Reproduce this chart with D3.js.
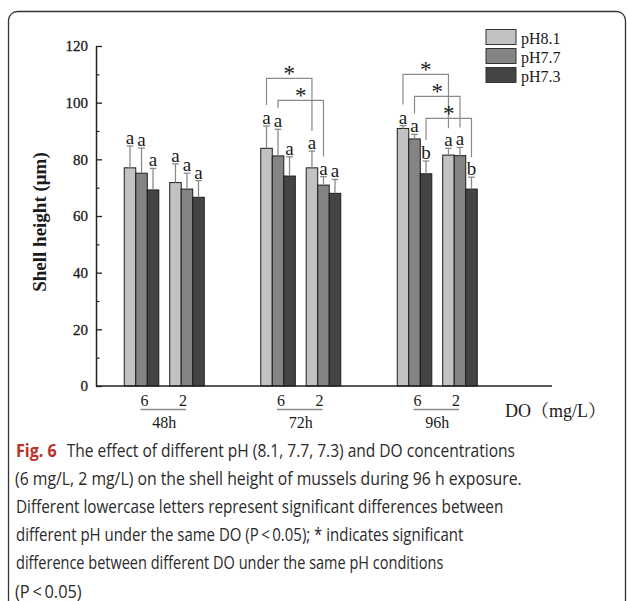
<!DOCTYPE html>
<html>
<head>
<meta charset="utf-8">
<script src="https://cdn.jsdelivr.net/npm/d3@7"></script>
<style>
  body { margin: 0; background: #fff; }
  svg { display: block; }
</style>
</head>
<body>
<svg id="chart"></svg>
<script>
// categories
const times = ["48h", "72h", "96h"];
const doLevels = ["6", "2"];
const phLevels = ["pH8.1", "pH7.7", "pH7.3"];

// means, order: 48h-6, 48h-2, 72h-6, 72h-2, 96h-6, 96h-2
const ph81Mean = [77.0, 71.8, 83.9, 77.0, 90.9, 81.5];
const ph77Mean = [75.1, 69.5, 81.2, 70.9, 87.2, 81.3];
const ph73Mean = [69.2, 66.6, 74.1, 68.0, 74.9, 69.5];

// error (upper bar)
const ph81Err = [7.7, 6.6, 7.9, 5.9, 1.0, 2.4];
const ph77Err = [8.9, 5.6, 9.4, 3.0, 1.6, 2.9];
const ph73Err = [7.6, 5.9, 6.8, 4.9, 4.5, 4.2];

// significance letters
const ph81Letters = ["a", "a", "a", "a", "a", "a"];
const ph77Letters = ["a", "a", "a", "a", "a", "a"];
const ph73Letters = ["a", "a", "a", "a", "b", "b"];

// DO comparisons marked with *
const sigPairs = [["72h", "pH8.1"], ["72h", "pH7.7"], ["96h", "pH8.1"], ["96h", "pH7.7"], ["96h", "pH7.3"]];

const yTicks = [0, 20, 40, 60, 80, 100, 120];

const figLabel = "Fig. 6";
const captionLines = [
  "The effect of different pH (8.1, 7.7, 7.3) and DO concentrations",
  "(6 mg/L, 2 mg/L) on the shell height of mussels during 96 h exposure.",
  "Different lowercase letters represent significant differences between",
  "different pH under the same DO (P\u2009<\u20090.05); * indicates significant",
  "difference between different DO under the same pH conditions",
  "(P\u2009<\u20090.05)"
];

const width = 627, height = 601;
const colors = { "pH8.1": "#c2c2c2", "pH7.7": "#848484", "pH7.3": "#444444" };
const serif = "'Liberation Serif', 'Times New Roman', serif";

const means = { "pH8.1": ph81Mean, "pH7.7": ph77Mean, "pH7.3": ph73Mean };
const errs = { "pH8.1": ph81Err, "pH7.7": ph77Err, "pH7.3": ph73Err };
const letters = { "pH8.1": ph81Letters, "pH7.7": ph77Letters, "pH7.3": ph73Letters };

const rows = [];
times.forEach((t, ti) => {
  doLevels.forEach((d, di) => {
    phLevels.forEach(p => {
      const i = ti * 2 + di;
      rows.push({ time: t, do: d, ph: p, mean: means[p][i], err: errs[p][i], letter: letters[p][i] });
    });
  });
});

const svg = d3.select("#chart").attr("width", width).attr("height", height);

// frame
svg.append("rect")
   .attr("x", 8.5).attr("y", 11.5)
   .attr("width", 617).attr("height", 600)
   .attr("rx", 9)
   .attr("fill", "none")
   .attr("stroke", "#333")
   .attr("stroke-width", 1.3);

const x0 = d3.scaleBand().domain(times).range([96, 505.5]).paddingInner(0.414).paddingOuter(0.207);
const x1 = d3.scaleBand().domain(doLevels).range([0, x0.bandwidth()]).paddingInner(0.24);
const x2 = d3.scaleBand().domain(phLevels).range([0, x1.bandwidth()]);
const y = d3.scaleLinear().domain([0, 120]).range([386, 46]);

const barX = d => x0(d.time) + x1(d.do) + x2(d.ph);
const barC = d => barX(d) + x2.bandwidth() / 2;

// y axis
const yAxis = d3.axisLeft(y).tickValues(yTicks).tickSize(-6).tickSizeOuter(0).tickPadding(8);
const gy = svg.append("g").attr("transform", "translate(96,0)").call(yAxis);
gy.select(".domain").attr("stroke", "#222").attr("stroke-width", 1.5);
gy.selectAll(".tick line").attr("stroke", "#222").attr("stroke-width", 1.3);
gy.selectAll(".tick text").attr("font-family", serif).attr("font-size", 15).attr("fill", "#1a1a1a")
  .attr("stroke", "#1a1a1a").attr("stroke-width", 0.3);

const minor = d3.axisLeft(y).tickValues(d3.range(10, 120, 20)).tickSize(-3.5).tickFormat("");
const gm = svg.append("g").attr("transform", "translate(96,0)").call(minor);
gm.select(".domain").remove();
gm.selectAll(".tick line").attr("stroke", "#222").attr("stroke-width", 1.2);

// bars
svg.append("g").selectAll("rect")
   .data(rows)
   .join("rect")
   .attr("x", barX)
   .attr("y", d => y(d.mean))
   .attr("width", x2.bandwidth())
   .attr("height", d => y(0) - y(d.mean))
   .attr("fill", d => colors[d.ph])
   .attr("stroke", "#1c1c1c")
   .attr("stroke-width", 1);

// x axis line
svg.append("line")
   .attr("x1", 96).attr("x2", 552)
   .attr("y1", y(0)).attr("y2", y(0))
   .attr("stroke", "#222").attr("stroke-width", 1.5);

// error bars
const eg = svg.append("g").attr("stroke", "#8a8a8a").attr("stroke-width", 1.3);
eg.selectAll("line.v").data(rows).join("line").attr("class", "v")
  .attr("x1", barC).attr("x2", barC)
  .attr("y1", d => y(d.mean)).attr("y2", d => y(d.mean + d.err));
eg.selectAll("line.c").data(rows).join("line").attr("class", "c")
  .attr("x1", d => barC(d) - 3.3).attr("x2", d => barC(d) + 3.3)
  .attr("y1", d => y(d.mean + d.err)).attr("y2", d => y(d.mean + d.err));

// letters
svg.append("g").selectAll("text")
   .data(rows)
   .join("text")
   .attr("x", barC)
   .attr("y", d => y(d.mean + d.err) - 2)
   .attr("text-anchor", "middle")
   .attr("font-family", serif)
   .attr("font-size", 19)
   .attr("fill", "#1a1a1a")
   .text(d => d.letter);

// brackets: inner ones first within each time group
const findRow = (t, d, p) => rows.find(r => r.time === t && r.do === d && r.ph === p);
const prevTop = {};
const brackets = [];
sigPairs.slice().reverse().forEach(([t, p]) => {
  const L = findRow(t, "6", p), R = findRow(t, "2", p);
  const xl = barC(L), xr = barC(R);
  const spanned = rows.filter(r => r.time === t && barC(r) >= xl - 0.1 && barC(r) <= xr + 0.1);
  let top = d3.min(spanned, r => y(r.mean + r.err)) - 29;
  if (prevTop[t] !== undefined) top = Math.min(top, prevTop[t] - 22);
  prevTop[t] = top;
  brackets.push({ xl, xr, top, bl: y(L.mean + L.err) - 21, br: y(R.mean + R.err) - 20 });
});

const bg = svg.append("g");
bg.selectAll("path")
  .data(brackets)
  .join("path")
  .attr("d", b => `M${b.xl},${b.bl}V${b.top}H${b.xr}V${b.br}`)
  .attr("fill", "none")
  .attr("stroke", "#8a8a8a")
  .attr("stroke-width", 1.2);
bg.selectAll("text")
  .data(brackets)
  .join("text")
  .attr("x", b => (b.xl + b.xr) / 2)
  .attr("y", b => b.top + 3)
  .attr("text-anchor", "middle")
  .attr("font-family", serif)
  .attr("font-size", 23)
  .attr("fill", "#1a1a1a")
  .text("*");

// x labels: DO level and time
const xg = svg.append("g").attr("font-family", serif).attr("fill", "#1a1a1a");
times.forEach(t => {
  const c6 = x0(t) + x1("6") + x1.bandwidth() / 2;
  const c2 = x0(t) + x1("2") + x1.bandwidth() / 2;
  xg.append("text").attr("x", c6 + 3).attr("y", 406).attr("text-anchor", "middle").attr("font-size", 16).text("6");
  xg.append("text").attr("x", c2 - 4).attr("y", 406).attr("text-anchor", "middle").attr("font-size", 16).text("2");
  xg.append("line").attr("x1", c6 - 1).attr("x2", c2 - 1).attr("y1", 409.5).attr("y2", 409.5)
    .attr("stroke", "#8a8a8a").attr("stroke-width", 1.3);
  xg.append("text").attr("x", x0(t) + x0.bandwidth() / 2).attr("y", 428).attr("text-anchor", "middle")
    .attr("font-size", 16).text(t);
});

svg.append("text")
   .attr("x", 505).attr("y", 417)
   .attr("font-family", "'Liberation Serif', 'Noto Serif CJK SC', 'Noto Sans CJK SC', serif")
   .attr("font-size", 18)
   .attr("fill", "#1a1a1a")
   .text("DO\uFF08mg/L\uFF09");

// y title
svg.append("text")
   .attr("transform", "translate(46,222) rotate(-90)")
   .attr("text-anchor", "middle")
   .attr("font-family", serif)
   .attr("font-size", 19)
   .attr("font-weight", "bold")
   .attr("fill", "#1a1a1a")
   .text("Shell height (\u03BCm)");

// legend
const lg = svg.append("g").attr("transform", "translate(486,29.5)");
phLevels.forEach((p, i) => {
  lg.append("rect").attr("x", 0).attr("y", i * 19).attr("width", 30).attr("height", 15)
    .attr("fill", colors[p]).attr("stroke", "#333").attr("stroke-width", 1);
  lg.append("text").attr("x", 35).attr("y", i * 19 + 14).attr("font-family", serif)
    .attr("font-size", 16).attr("fill", "#1a1a1a").text(p);
});

// caption
const capFont = "'Liberation Sans Narrow', 'Open Sans', sans-serif";
const capX = [66.7, 15, 16, 16, 16, 15];
const capWidths = [448.3, 506.7, 487.3, 447.3, 427.3, 66.7];
svg.append("text")
   .attr("x", 16).attr("y", 457)
   .attr("font-family", capFont)
   .attr("font-size", 18)
   .attr("font-weight", "bold")
   .attr("fill", "#b8322b")
   .attr("textLength", 40.7)
   .attr("lengthAdjust", "spacingAndGlyphs")
   .text(figLabel);
captionLines.forEach((line, i) => {
  svg.append("text")
     .attr("x", capX[i])
     .attr("y", 457 + i * 28.1)
     .attr("font-family", capFont)
     .attr("font-size", 18)
     .attr("fill", "#2a2a2a")
     .attr("textLength", capWidths[i])
     .attr("lengthAdjust", "spacingAndGlyphs")
     .text(line);
});
</script>
</body>
</html>
